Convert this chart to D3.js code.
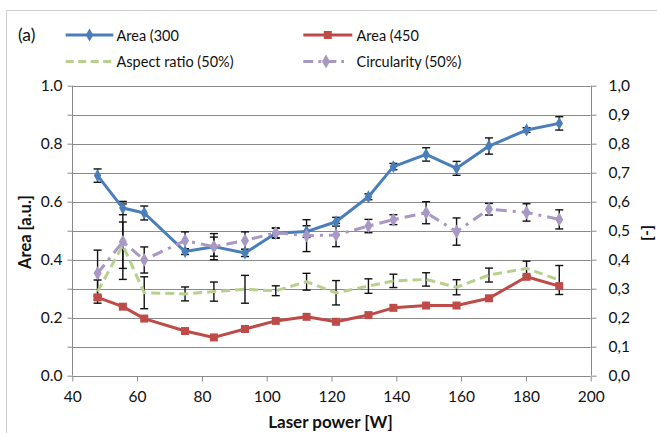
<!DOCTYPE html>
<html>
<head>
<meta charset="utf-8">
<script src="https://cdn.jsdelivr.net/npm/d3@7"></script>
<style>
  html, body { margin: 0; padding: 0; background: #fff; }
  svg { display: block; font-family: Lato, "Liberation Sans", sans-serif; }
</style>
</head>
<body>
<svg id="chart" width="657" height="433"></svg>
<script>
// Laser power [W]
const power = [47.8, 55.6, 62.2, 74.8, 83.7, 93.3, 102.8, 112.3, 121.4, 131.4, 139.1, 149.2, 158.6, 168.6, 180.2, 190.3];

// Area (300 — left axis
const area300 = [0.690, 0.578, 0.561, 0.428, 0.445, 0.423, 0.491, 0.497, 0.531, 0.617, 0.721, 0.763, 0.715, 0.792, 0.847, 0.870];
const area300Err = [0.023, 0.023, 0.024, 0.010, 0.033, 0.012, 0.017, 0.020, 0.015, 0.010, 0.011, 0.023, 0.024, 0.028, 0.008, 0.023];

// Area (450 — left axis
const area450 = [0.270, 0.238, 0.197, 0.154, 0.132, 0.161, 0.189, 0.203, 0.186, 0.209, 0.234, 0.242, 0.242, 0.267, 0.341, 0.309];
const area450Err = [0.008, 0, 0, 0, 0, 0, 0, 0, 0, 0, 0, 0, 0, 0, 0, 0];

// Aspect ratio (50%) — right axis
const aspect = [0.290, 0.450, 0.286, 0.282, 0.290, 0.298, 0.293, 0.324, 0.286, 0.309, 0.327, 0.332, 0.305, 0.347, 0.370, 0.330];
const aspectErr = [0.040, 0.080, 0.055, 0.024, 0.033, 0.048, 0.017, 0.029, 0.042, 0.025, 0.023, 0.023, 0.026, 0.024, 0.025, 0.050];

// Circularity (50%) — right axis
const circ = [0.353, 0.462, 0.399, 0.466, 0.445, 0.466, 0.493, 0.483, 0.485, 0.516, 0.538, 0.562, 0.497, 0.574, 0.563, 0.539];
const circErr = [0.080, 0.130, 0.045, 0.030, 0.045, 0.030, 0.017, 0.055, 0.040, 0.023, 0.017, 0.038, 0.047, 0.020, 0.030, 0.033];

// Axis ticks
const xTicks = [40, 60, 80, 100, 120, 140, 160, 180, 200];
const leftTicks = [0.0, 0.2, 0.4, 0.6, 0.8, 1.0];
const rightTicks = [0.0, 0.1, 0.2, 0.3, 0.4, 0.5, 0.6, 0.7, 0.8, 0.9, 1.0];

const svg = d3.select("#chart");

const plot = { left: 72.3, right: 590.7, top: 85.7, bottom: 375.7 };
const x = d3.scaleLinear().domain([40, 200]).range([plot.left, plot.right]);
const yL = d3.scaleLinear().domain([0, 1]).range([plot.bottom, plot.top]);
const yR = d3.scaleLinear().domain([0, 1]).range([plot.bottom, plot.top]);

const gridColor = "#8a8a8a";
const textColor = "#111";
const colors = { a300: "#4A7EBB", a450: "#BE4B48", aspect: "#B7D08E", circ: "#A898C4" };

// Outer chart frame
svg.append("path")
  .attr("d", "M6.5,433 L6.5,10.5 L657,10.5")
  .attr("fill", "none").attr("stroke", "#d0d0d0").attr("stroke-width", 1);

// Horizontal gridlines
svg.append("g").selectAll("line")
  .data(rightTicks.filter(d => d > 0))
  .join("line")
  .attr("x1", plot.left).attr("x2", plot.right)
  .attr("y1", d => Math.round(yL(d)) + 0.5).attr("y2", d => Math.round(yL(d)) + 0.5)
  .attr("stroke", gridColor).attr("stroke-width", 1);

// Axes
const fmtL = d3.format(".1f");
const fmtR = v => d3.format(".1f")(v).replace(".", ",");

const xAxis = svg.append("g")
  .attr("transform", `translate(0,${Math.round(plot.bottom) + 0.5})`)
  .call(d3.axisBottom(x).tickValues(xTicks).tickSize(5).tickPadding(9).tickFormat(d3.format("d")));

const leftAxis = svg.append("g")
  .attr("transform", `translate(${Math.round(plot.left) + 0.5},0)`)
  .call(d3.axisLeft(yL).tickValues(rightTicks).tickSize(5).tickPadding(5)
    .tickFormat(d => leftTicks.some(t => Math.abs(t - d) < 1e-9) ? fmtL(d) : ""));

const rightAxis = svg.append("g")
  .attr("transform", `translate(${Math.round(plot.right) + 0.5},0)`)
  .call(d3.axisRight(yR).tickValues(rightTicks).tickSize(5).tickPadding(12).tickFormat(fmtR));

[xAxis, leftAxis, rightAxis].forEach(g => {
  g.select(".domain").attr("stroke", gridColor).attr("stroke-width", 1);
  g.selectAll(".tick line").attr("stroke", gridColor).attr("stroke-width", 1);
  g.selectAll(".tick text").attr("fill", textColor).style("font-size", "15.5px").style("font-family", "Lato, sans-serif");
});
xAxis.select(".domain").attr("d", `M${plot.left},0H${plot.right}`);
leftAxis.select(".domain").attr("d", `M0,${plot.bottom}V${plot.top}`);
rightAxis.select(".domain").attr("d", `M0,${plot.bottom}V${plot.top}`);

// Axis titles
svg.append("text")
  .attr("x", (plot.left + plot.right) / 2 - 1).attr("y", 428)
  .attr("text-anchor", "middle").attr("font-weight", "bold").attr("font-size", 17)
  .attr("fill", textColor).text("Laser power [W]");

svg.append("text")
  .attr("transform", "translate(31,232) rotate(-90)")
  .attr("text-anchor", "middle").attr("font-weight", "bold").attr("font-size", 16.5)
  .attr("fill", textColor).text("Area [a.u.]");

svg.append("text")
  .attr("transform", "translate(652,233) rotate(-90)")
  .attr("text-anchor", "middle").attr("font-weight", "bold").attr("font-size", 16)
  .attr("fill", textColor).text("[-]");

// Series definitions
const series = [
  { key: "a300", vals: area300, err: area300Err, y: yL, color: colors.a300, dash: null, marker: "diamond", msize: 48 },
  { key: "a450", vals: area450, err: area450Err, y: yL, color: colors.a450, dash: null, marker: "square", msize: 64 },
  { key: "aspect", vals: aspect, err: aspectErr, y: yR, color: colors.aspect, dash: "9,5", marker: null },
  { key: "circ", vals: circ, err: circErr, y: yR, color: colors.circ, dash: "11,6,3,6", marker: "diamond", msize: 56 }
];

const errLayer = svg.append("g");
const lineLayer = svg.append("g");

series.forEach(s => {
  const pts = power.map((p, i) => ({ x: p, v: s.vals[i], e: s.err[i] }));

  // error bars
  const eg = errLayer.append("g").attr("stroke", "#111").attr("stroke-width", 1.4);
  pts.filter(d => d.e > 0).forEach(d => {
    const cx = x(d.x), y0 = s.y(d.v - d.e), y1 = s.y(d.v + d.e);
    eg.append("line").attr("x1", cx).attr("x2", cx).attr("y1", y0).attr("y2", y1);
    eg.append("line").attr("x1", cx - 4).attr("x2", cx + 4).attr("y1", y0).attr("y2", y0);
    eg.append("line").attr("x1", cx - 4).attr("x2", cx + 4).attr("y1", y1).attr("y2", y1);
  });

  const line = d3.line().x(d => x(d.x)).y(d => s.y(d.v));
  lineLayer.append("path")
    .datum(pts)
    .attr("d", line)
    .attr("fill", "none")
    .attr("stroke", s.color)
    .attr("stroke-width", 3)
    .attr("stroke-linejoin", "round")
    .attr("stroke-dasharray", s.dash);

  if (s.marker) {
    const sym = d3.symbol().type(s.marker === "square" ? d3.symbolSquare : d3.symbolDiamond).size(s.msize);
    lineLayer.append("g").selectAll("path")
      .data(pts)
      .join("path")
      .attr("transform", d => `translate(${x(d.x)},${s.y(d.v)})`)
      .attr("d", sym)
      .attr("fill", s.color);
  }
});

// Panel label
svg.append("text").attr("x", 18).attr("y", 41).attr("font-size", 17.5).attr("fill", textColor).text("(a)");

// Legend
const legend = svg.append("g").attr("font-size", 14.5).attr("fill", textColor);
const legendItems = [
  { s: series[0], label: "Area (300", x0: 65.7, x1: 113.3, y: 35, tx: 116.5, ty: 41 },
  { s: series[1], label: "Area (450", x0: 303.3, x1: 352.3, y: 35, tx: 356.5, ty: 41 },
  { s: series[2], label: "Aspect ratio (50%)", x0: 65.7, x1: 113.3, y: 61.5, tx: 116.5, ty: 66.5 },
  { s: series[3], label: "Circularity (50%)", x0: 303.3, x1: 344, y: 61.5, tx: 356.5, ty: 66.5 }
];
legendItems.forEach(it => {
  const s = it.s;
  const dash = s.key === "circ" ? "10,5,3,5" : (s.key === "aspect" ? "8,4.5" : null);
  legend.append("line")
    .attr("x1", it.x0).attr("x2", it.x1).attr("y1", it.y).attr("y2", it.y)
    .attr("stroke", s.color).attr("stroke-width", 3).attr("stroke-dasharray", dash);
  if (s.marker) {
    const sym = d3.symbol().type(s.marker === "square" ? d3.symbolSquare : d3.symbolDiamond).size(s.msize);
    legend.append("path")
      .attr("transform", `translate(${s.key === "circ" ? 326 : (it.x0 + it.x1) / 2},${it.y})`)
      .attr("d", sym).attr("fill", s.color);
  }
  legend.append("text").attr("x", it.tx).attr("y", it.ty).text(it.label);
});
</script>
</body>
</html>
